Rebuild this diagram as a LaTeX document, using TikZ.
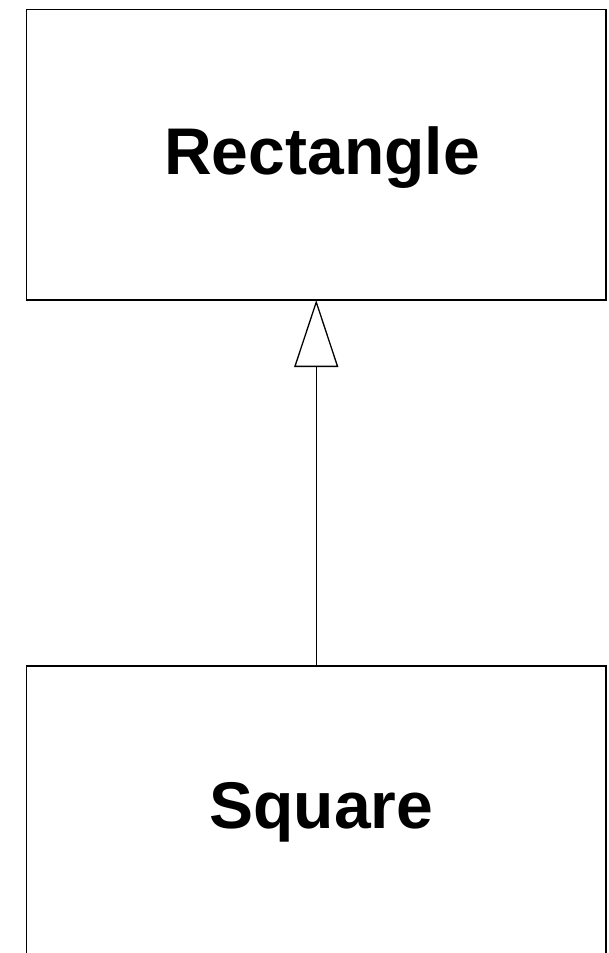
\documentclass[tikz,border=0pt]{standalone}
\usepackage{fontspec}
\setmainfont{Liberation Sans}
\usetikzlibrary{arrows.meta}
\begin{document}
\begin{tikzpicture}[x=1pt,y=-1pt,
  classbox/.style={draw=black, line width=1.9pt, rectangle, minimum width=579.5pt, inner sep=0pt, outer sep=0pt},
  classname/.style={font=\fontsize{66}{70}\selectfont\bfseries, inner sep=0pt, anchor=base},
  inherit/.style={line width=1.3pt, -{Triangle[open, length=67pt, width=44pt, fill=white]}}
  ]
  \useasboundingbox (0,0) rectangle (609,953);
  \clip (0,0) rectangle (609,953);
  \node[classbox, minimum height=290.5pt, anchor=north west] (rect) at (26.5,9.5) {};
  \node[classbox, minimum height=400pt, anchor=north west] (square) at (26.5,666.3) {};
  \node[classname] (rectlabel) at (322,174) {Rectangle};
  \node[classname] (squarelabel) at (321.5,828) {Square};
  \draw[inherit] (square.north) -- (rect.south);
\end{tikzpicture}
\end{document}
